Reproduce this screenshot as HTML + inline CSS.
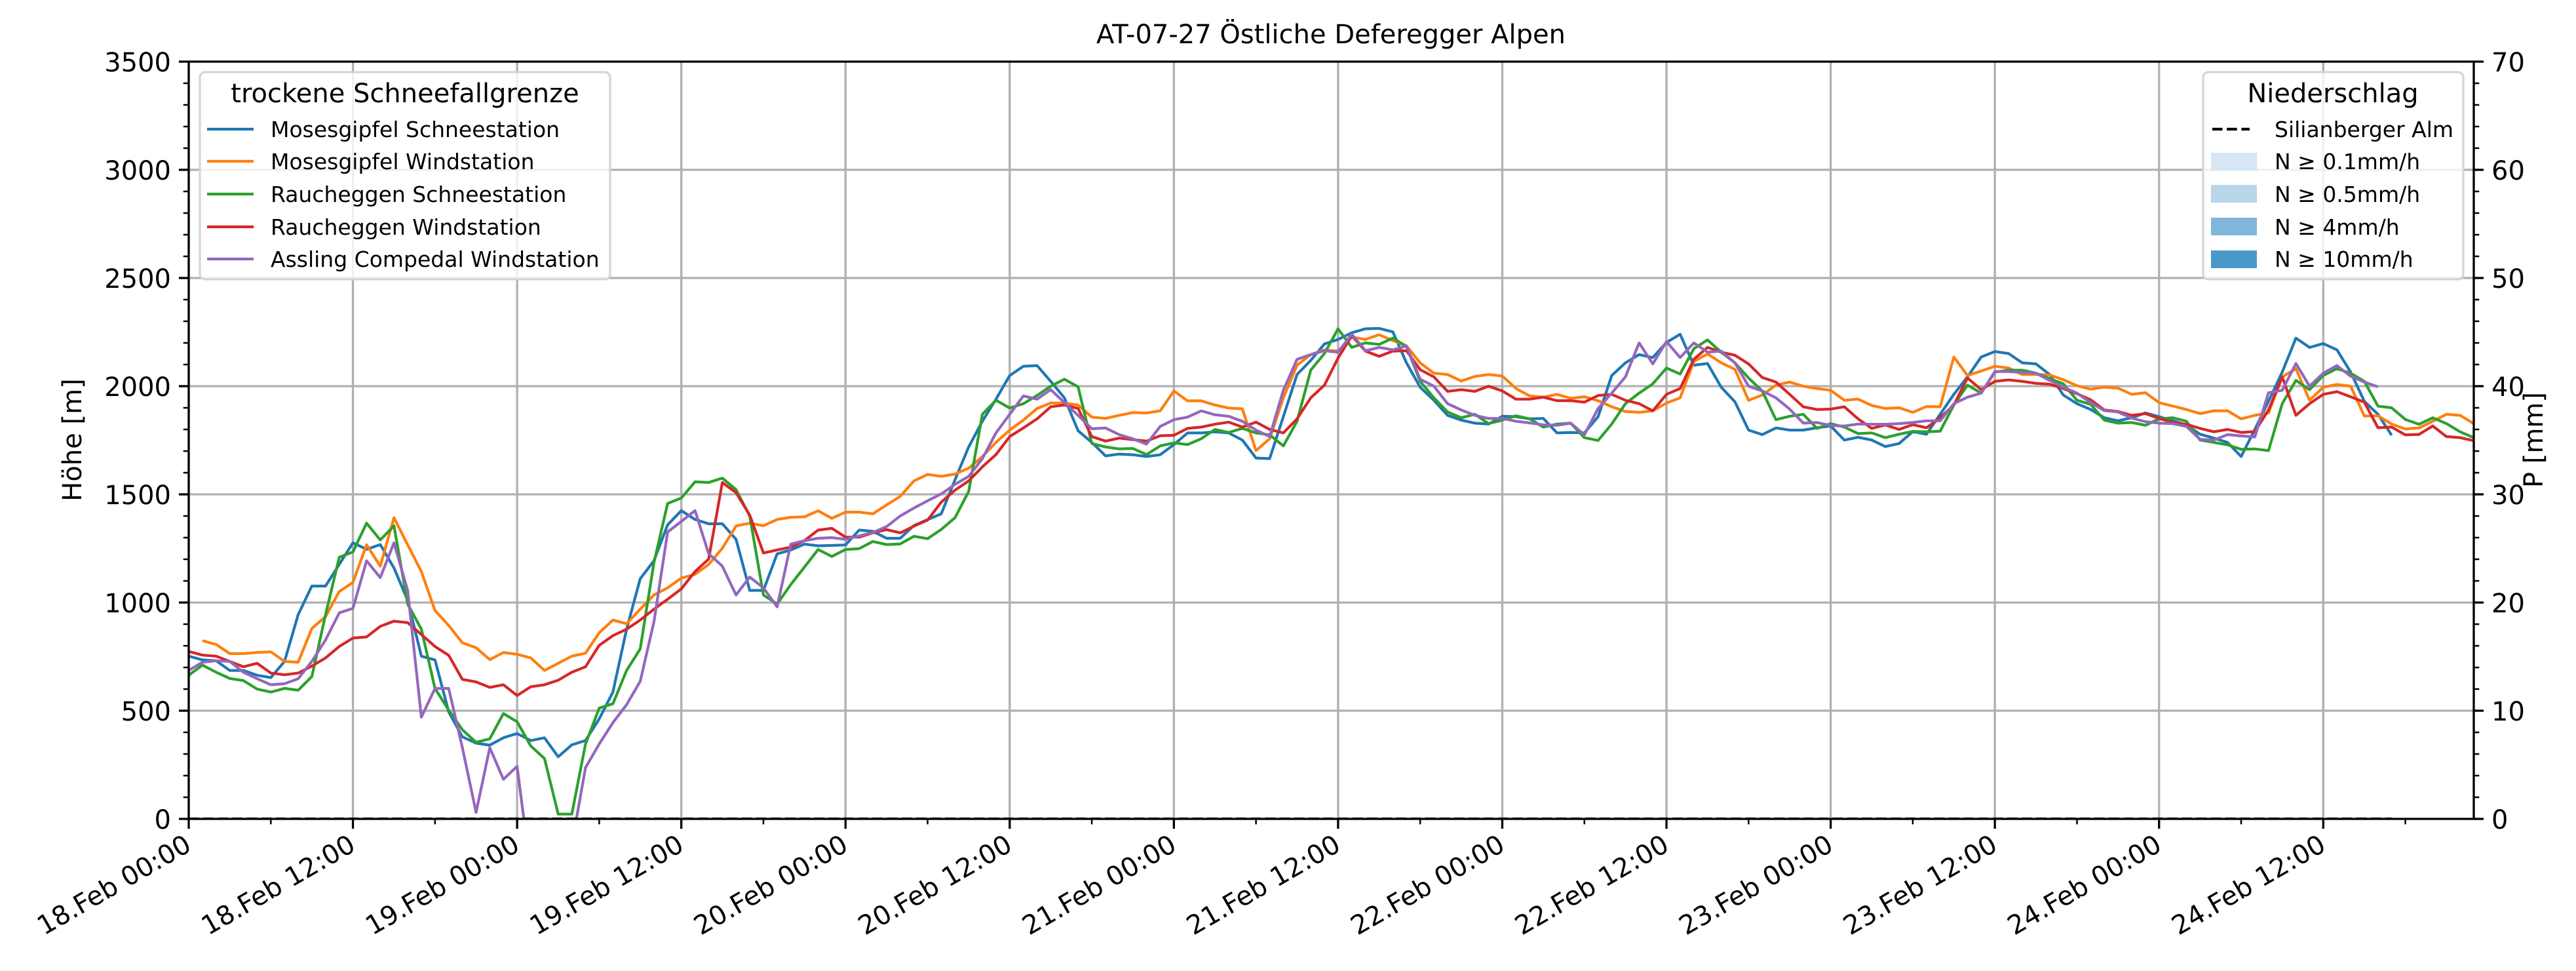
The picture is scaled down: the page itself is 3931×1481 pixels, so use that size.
<!DOCTYPE html>
<html><head><meta charset="utf-8">
<style>
html,body{margin:0;padding:0;background:#fff;}
svg{display:block;font-family:"DejaVu Sans","Liberation Sans",sans-serif;}
</style></head>
<body>
<svg id="chart" xmlns="http://www.w3.org/2000/svg" width="3931" height="1481" viewBox="0 0 3931 1481">
<defs><clipPath id="plotclip"><rect x="288" y="94" width="3487" height="1155"/></clipPath></defs>
<rect x="0" y="0" width="3931" height="1481" fill="#fff"/>
<g id="grid"></g>
<g id="series" clip-path="url(#plotclip)"></g>
<g id="axes"></g>
<text x="2031" y="66" font-size="40" text-anchor="middle">AT-07-27 Östliche Deferegger Alpen</text>
<text transform="translate(124,671) rotate(-90)" font-size="40" text-anchor="middle">Höhe [m]</text>
<text transform="translate(3880,671) rotate(-90)" font-size="40" text-anchor="middle">P [mm]</text>

<g>
<rect x="305" y="110" width="626" height="316" rx="8" fill="#fff" fill-opacity="0.8" stroke="#d5d5d5" stroke-width="3.3"/>
<text x="618" y="156" font-size="40" text-anchor="middle">trockene Schneefallgrenze</text>
<g><line x1="316" y1="197" x2="387" y2="197" stroke="#1f77b4" stroke-width="4.2"/><text x="413" y="209" font-size="33">Mosesgipfel Schneestation</text></g>
<g><line x1="316" y1="246" x2="387" y2="246" stroke="#ff7f0e" stroke-width="4.2"/><text x="413" y="258" font-size="33">Mosesgipfel Windstation</text></g>
<g><line x1="316" y1="296" x2="387" y2="296" stroke="#2ca02c" stroke-width="4.2"/><text x="413" y="308" font-size="33">Raucheggen Schneestation</text></g>
<g><line x1="316" y1="346" x2="387" y2="346" stroke="#d62728" stroke-width="4.2"/><text x="413" y="358" font-size="33">Raucheggen Windstation</text></g>
<g><line x1="316" y1="395" x2="387" y2="395" stroke="#9467bd" stroke-width="4.2"/><text x="413" y="407" font-size="33">Assling Compedal Windstation</text></g>
</g>

<g>
<rect x="3362" y="110" width="397" height="316" rx="8" fill="#fff" fill-opacity="0.8" stroke="#d5d5d5" stroke-width="3.3"/>
<text x="3560" y="156" font-size="40" text-anchor="middle">Niederschlag</text>
<g><line x1="3376" y1="197" x2="3433" y2="197" stroke="#000" stroke-width="4.2" stroke-dasharray="15.5,6.7"/><text x="3471" y="209" font-size="33">Silianberger Alm</text></g>
<g><rect x="3374" y="233" width="70" height="27" fill="#d6e6f4"/><text x="3471" y="258" font-size="33">N ≥ 0.1mm/h</text></g>
<g><rect x="3374" y="282" width="70" height="27" fill="#b9d5ea"/><text x="3471" y="308" font-size="33">N ≥ 0.5mm/h</text></g>
<g><rect x="3374" y="332" width="70" height="27" fill="#80b6d9"/><text x="3471" y="358" font-size="33">N ≥ 4mm/h</text></g>
<g><rect x="3374" y="382" width="70" height="27" fill="#4a98c9"/><text x="3471" y="407" font-size="33">N ≥ 10mm/h</text></g>
</g>
</svg>
<script>
// Data (hourly, starting 18.Feb 00:00)
const xTickLabels = ["18.Feb 00:00","18.Feb 12:00","19.Feb 00:00","19.Feb 12:00","20.Feb 00:00","20.Feb 12:00","21.Feb 00:00","21.Feb 12:00","22.Feb 00:00","22.Feb 12:00","23.Feb 00:00","23.Feb 12:00","24.Feb 00:00","24.Feb 12:00"];
const yTicks = [0,500,1000,1500,2000,2500,3000,3500];
const y2Ticks = [0,10,20,30,40,50,60,70];
const mosesSchnee = [752,735,731,686,686,664,653,728,944,1076,1076,1176,1276,1246,1268,1160,1010,752,735,495,379,350,341,375,395,362,375,287,342,362,462,586,877,1110,1193,1359,1425,1384,1364,1364,1292,1056,1056,1225,
1243,1270,1262,1264,1266,1335,1329,1297,1297,1356,1383,1410,1567,1719,1838,1940,2049,2092,2095,2022,1946,1794,1740,1678,1686,1683,1675,1683,1730,1784,1784,1789,1784,1751,1668,1665,1859,2054,2119,2195,
2216,2247,2265,2267,2251,2108,1995,1935,1865,1843,1829,1825,1861,1859,1849,1851,1784,1786,1784,1859,2049,2108,2146,2132,2202,2240,2097,2105,1995,1928,1797,1776,1807,1797,1797,1808,1816,1751,1764,1751,1721,1735,
1790,1778,1870,1962,2043,2135,2160,2151,2108,2103,2054,1959,1919,1892,1854,1840,1854,1876,1859,1840,1821,1778,1760,1740,1675,1800,1930,2065,2222,2179,2197,2168,2065,1930,1870,1773];
const mosesWind = [null,824,806,764,764,769,772,728,724,880,935,1051,1093,1267,1168,1392,1267,1143,963,894,814,791,736,769,761,744,686,719,752,766,860,919,902,969,1035,1068,1113,1130,1176,1251,1354,1367,1355,1384,
1394,1396,1424,1389,1418,1418,1410,1451,1491,1562,1592,1583,1594,1621,1675,1740,1797,1843,1897,1922,1922,1913,1857,1851,1865,1878,1876,1886,1978,1932,1932,1913,1899,1895,1702,1757,1946,2097,2146,2168,
2162,2227,2216,2238,2211,2186,2108,2060,2054,2024,2045,2054,2047,1989,1955,1949,1962,1944,1951,1933,1905,1883,1879,1886,1922,1946,2114,2149,2108,2078,1935,1959,2005,2019,2000,1989,1981,1935,1940,1911,1897,1900,
1879,1906,1905,2135,2049,2070,2092,2084,2054,2054,2052,2030,2002,1986,1995,1991,1962,1970,1924,1908,1892,1873,1886,1886,1849,1865,1876,2043,2081,1935,1995,2008,2000,1862,1863,1825,1802,1807,1838,1870,1865,1827];
const rauchSchnee = [664,711,678,649,639,600,586,603,595,658,944,1209,1234,1367,1289,1355,993,877,603,503,412,354,370,487,449,337,279,22,22,346,512,532,686,786,1184,1458,1483,1558,1555,1575,1522,1400,1035,993,
1083,1164,1245,1213,1245,1249,1282,1268,1271,1306,1295,1338,1392,1513,1870,1935,1899,1919,1957,2000,2032,1997,1735,1719,1710,1712,1684,1724,1738,1730,1757,1800,1786,1805,1784,1775,1724,1838,2074,2151,
2265,2179,2200,2193,2222,2184,2022,1946,1881,1854,1870,1827,1843,1863,1849,1811,1825,1829,1762,1749,1825,1919,1968,2011,2084,2056,2173,2214,2157,2108,2038,1978,1845,1861,1870,1805,1827,1811,1781,1784,1762,1778,
1791,1789,1792,1913,2005,1968,2065,2074,2074,2060,2035,2011,1935,1916,1843,1829,1832,1819,1849,1854,1838,1751,1740,1729,1708,1710,1702,1919,2027,1984,2049,2081,2060,2022,1908,1900,1846,1824,1854,1827,1789,1762];
const rauchWind = [774,757,752,728,703,719,674,666,674,706,744,797,836,841,890,914,907,852,797,756,645,633,608,620,570,611,620,641,678,703,802,847,877,919,969,1015,1063,1143,1201,1555,1508,1404,1229,1243,
1256,1286,1335,1343,1302,1302,1322,1337,1322,1353,1381,1464,1519,1562,1627,1684,1767,1807,1849,1905,1913,1897,1767,1746,1760,1753,1746,1771,1773,1805,1811,1824,1834,1811,1834,1800,1784,1849,1946,2005,
2130,2233,2162,2138,2162,2164,2076,2043,1976,1984,1976,2000,1978,1940,1940,1949,1933,1933,1926,1957,1962,1935,1919,1886,1962,1989,2124,2179,2157,2143,2103,2040,2019,1962,1905,1892,1894,1905,1849,1805,1821,1800,
1822,1808,1854,1913,2038,1984,2022,2029,2022,2013,2009,1989,1965,1937,1890,1883,1865,1873,1851,1832,1824,1805,1789,1800,1786,1790,1890,2043,1865,1919,1962,1975,1951,1926,1808,1811,1775,1777,1816,1767,1762,1748];
const asslingWind = [686,724,731,728,678,648,620,625,648,728,827,952,973,1193,1115,1276,1056,470,603,603,329,30,329,183,243,-250,-300,-300,-120,237,346,445,528,636,910,1326,1375,1425,1226,1168,1035,1118,1068,980,
1270,1286,1297,1300,1292,1308,1324,1351,1400,1437,1470,1502,1546,1583,1665,1784,1870,1955,1940,1984,1924,1865,1803,1807,1776,1757,1732,1814,1845,1857,1886,1868,1861,1838,1797,1767,1981,2124,2146,2164,
2157,2240,2164,2179,2168,2186,2032,2000,1919,1890,1865,1851,1851,1838,1830,1821,1819,1829,1775,1897,1968,2043,2200,2103,2206,2132,2200,2157,2162,2108,2000,1978,1946,1894,1829,1832,1818,1816,1825,1824,1824,1827,
1832,1840,1840,1919,1949,1968,2068,2068,2063,2060,2027,1995,1968,1924,1887,1881,1852,1836,1829,1827,1814,1754,1751,1776,1770,1765,1970,1981,2105,2000,2060,2095,2046,2019,1997];
const precipSilian = [0,0,0,0,0,0,0,0,0,0,0,0,0,0,0,0,0,0,0,0,0,0,0,0,0,0,0,0,0,0,0,0,0,0,0,0,0,0,0,0,0,0,0,0,0,0,0,0,0,0,0,0,0,0,0,0,0,0,0,0,0,0,0,0,0,0,0,0,0,0,0,0,0,0,0,0,0,0,0,0,0,0,0,0,0,0,0,0,0,0,0,0,0,0,0,0,0,0,0,0,0,0,0,0,0,0,0,0,0,0,0,0,0,0,0,0,0,0,0,0,0,0,0,0,0,0,0,0,0,0,0,0,0,0,0,0,0,0,0,0,0,0,0,0,0,0,0,0,0,0,0,0,0,0,0,0,0,0,0,0,0,0];

const NS="http://www.w3.org/2000/svg";
const L=288,R=3775,T=94,B=1249,HMAX=167,YMAX=3500,Y2MAX=70;
function xs(h){return L+(R-L)*h/HMAX;}
function ys(v){return B-(B-T)*v/YMAX;}
function y2s(v){return B-(B-T)*v/Y2MAX;}
function mk(tag,attrs,parent){const e=document.createElementNS(NS,tag);for(const k in attrs)e.setAttribute(k,attrs[k]);parent.appendChild(e);return e;}
const grid=document.getElementById('grid'),axes=document.getElementById('axes'),series=document.getElementById('series');

xTickLabels.forEach((lab,i)=>{
  const x=xs(i*12);
  const g=mk('line',{x1:x,y1:T,x2:x,y2:B,stroke:'#b0b0b0','stroke-width':3.3},grid);
  
  
  const tk=mk('line',{x1:x,y1:B,x2:x,y2:B+15,stroke:'#000','stroke-width':3.3},axes);
  
  
  const t=mk('text',{transform:`translate(${x-8},${B+22}) rotate(-30)`,'font-size':40,'text-anchor':'end',dy:'0.72em'},axes);
  t.textContent=lab;
  
  
});
for(let h=6;h<HMAX;h+=12){const x=xs(h);const m=mk('line',{x1:x,y1:B,x2:x,y2:B+8.3,stroke:'#000','stroke-width':2.5},axes);
  
  }
yTicks.forEach(v=>{
  const y=ys(v);
  if(v>0&&v<YMAX){const g=mk('line',{x1:L,y1:y,x2:R,y2:y,stroke:'#b0b0b0','stroke-width':3.3},grid);
    
    }
  const tk=mk('line',{x1:L-15,y1:y,x2:L,y2:y,stroke:'#000','stroke-width':3.3},axes);
  
  
  const t=mk('text',{x:L-27,y:y+15,'font-size':40,'text-anchor':'end'},axes);
  t.textContent=v;
  
  
});
for(let v=100;v<YMAX;v+=100){if(v%500===0)continue;const y=ys(v);const m=mk('line',{x1:L-8.3,y1:y,x2:L,y2:y,stroke:'#000','stroke-width':2.5},axes);
  
  }
y2Ticks.forEach(v=>{
  const y=y2s(v);
  const tk=mk('line',{x1:R,y1:y,x2:R+15,y2:y,stroke:'#000','stroke-width':3.3},axes);
  
  
  const t=mk('text',{x:R+27,y:y+15,'font-size':40,'text-anchor':'start'},axes);
  t.textContent=v;
  
  
});
for(let v=2;v<Y2MAX;v+=2){if(v%10===0)continue;const y=y2s(v);const m=mk('line',{x1:R,y1:y,x2:R+8.3,y2:y,stroke:'#000','stroke-width':2.5},axes);
  
  }

function drawLine(arr,color,name,scale,dash){
  let d='',pen=false;
  arr.forEach((v,i)=>{if(v===null||v===undefined){pen=false;return;}d+=(pen?'L':'M')+xs(i).toFixed(1)+','+scale(v).toFixed(1);pen=true;});
  const p=mk('path',{d:d,fill:'none',stroke:color,'stroke-width':4.2,'stroke-linejoin':'round'},series);
  if(dash)p.setAttribute('stroke-dasharray',dash);
  
  
}
drawLine(mosesSchnee,'#1f77b4','line-mosesgipfel-schneestation',ys);
drawLine(mosesWind,'#ff7f0e','line-mosesgipfel-windstation',ys);
drawLine(rauchSchnee,'#2ca02c','line-raucheggen-schneestation',ys);
drawLine(rauchWind,'#d62728','line-raucheggen-windstation',ys);
drawLine(asslingWind,'#9467bd','line-assling-compedal-windstation',ys);
drawLine(precipSilian,'#000','line-precip-silianberger-alm',y2s,'15.5,6.7');

const sp=mk('rect',{x:L,y:T,width:R-L,height:B-T,fill:'none',stroke:'#000','stroke-width':3.3},axes);


</script>
</body></html>
